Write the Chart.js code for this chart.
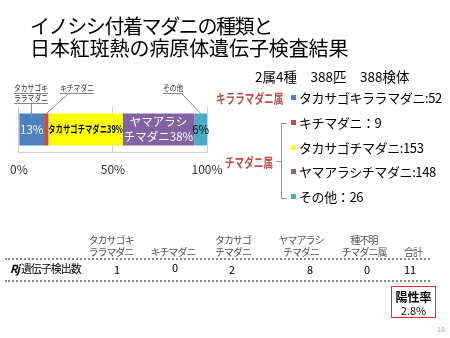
<!DOCTYPE html>
<html>
<head>
<meta charset="utf-8">
<script src="https://cdn.jsdelivr.net/npm/chart.js@4"></script>
<style>
  body { margin: 0; background: #fff; }
  #wrap { position: relative; width: 450px; height: 338px; overflow: hidden; font-family: "Noto Sans CJK JP", sans-serif; }
  #c { position: absolute; left: 0; top: 0; }
  .t { position: absolute; white-space: nowrap; line-height: 1; }
  .title { font-size: 20px; color: #000; }
  .leg { font-size: 13px; color: #000; letter-spacing: -0.4px; }
  .sw { position: absolute; width: 5px; height: 5px; }
  .genus { font-size: 13px; color: #c0504d; transform: scaleX(0.74); transform-origin: 0 0; font-weight: bold; }
  .hd { font-size: 10px; color: #555; letter-spacing: -1px; }
  .val { font-size: 11px; color: #000; }
  .dots { position: absolute; left: 5px; width: 425px; border-top: 2px dotted #888; }
</style>
</head>
<body>
<div id="wrap">
  <canvas id="c" width="450" height="338"></canvas>
  <div id="overlay"></div>
</div>
<script>
// data
const species = ['タカサゴキララマダニ', 'キチマダニ', 'タカサゴチマダニ', 'ヤマアラシチマダニ', 'その他'];
const counts = [52, 9, 153, 148, 26];
const colors = ['#4f81bd', '#c0504d', '#ffff00', '#8064a2', '#4bacc6'];
const barLabels = [['13%'], [], ['タカサゴチマダニ39%'], ['ヤマアラシ', 'チマダニ38%'], ['6%']];
const barLabelColors = ['#ffffff', '#000000', '#000000', '#ffffff', '#000000'];
const callouts = [['タカサゴキ', 'ララマダニ'], ['キチマダニ'], null, null, ['その他']];
const axisTicks = [0, 50, 100];
const titleLines = ['イノシシ付着マダニの種類と', '日本紅斑熱の病原体遺伝子検査結果'];
const summary = '2属4種　388匹　388検体';
const genera = ['キララマダニ属', 'チマダニ属'];
const legendTexts = ['タカサゴキララマダニ:52', 'キチマダニ：9', 'タカサゴチマダニ:153', 'ヤマアラシチマダニ:148', 'その他：26'];
const tableHeads = [['タカサゴキ', 'ララマダニ'], ['', 'キチマダニ'], ['タカサゴ', 'チマダニ'], ['ヤマアラシ', 'チマダニ'], ['種不明', 'チマダニ属'], ['', '合計']];
const tableValues = ['1', '0', '2', '8', '0', '11'];
const rowLabel = '遺伝子検出数';
const rateLabel = '陽性率';
const rateValue = '2.8%';

const total = counts.reduce((a, b) => a + b, 0);

// html text parts
const ov = document.getElementById('overlay');
function put(cls, txt, x, y, extra) {
  const d = document.createElement('div');
  d.className = 't ' + cls;
  d.textContent = txt;
  d.style.left = x + 'px';
  d.style.top = y + 'px';
  if (extra) Object.assign(d.style, extra);
  ov.appendChild(d);
  return d;
}
put('title', titleLines[0], 30, 16, { letterSpacing: '-1.4px' });
put('title', titleLines[1], 30, 38, { letterSpacing: '-0.1px' });
put('leg', summary, 255, 70, { letterSpacing: '0px', fontSize: '13.5px' });

put('genus', genera[0], 216, 91);
put('genus', genera[1], 225, 155);
const rowsY = [98, 123, 148, 172, 197];
legendTexts.forEach((s, i) => {
  const sw = document.createElement('div');
  sw.className = 'sw';
  sw.style.background = colors[i];
  sw.style.left = '291px';
  sw.style.top = (rowsY[i] - 3) + 'px';
  ov.appendChild(sw);
  put('leg', s, 299, rowsY[i] - 7);
});
// bracket for second genus
const br = document.createElement('div');
Object.assign(br.style, { position: 'absolute', left: '281px', top: '123px', width: '5px', height: '74px',
  borderLeft: '1px solid #999', borderTop: '1px solid #999', borderBottom: '1px solid #999' });
ov.appendChild(br);
const brm = document.createElement('div');
Object.assign(brm.style, { position: 'absolute', left: '276px', top: '161px', width: '5px', borderTop: '1px solid #999' });
ov.appendChild(brm);

// table
const colX = [111, 173, 233, 301, 364, 413];
tableHeads.forEach((h, i) => {
  put('hd', h[0], colX[i], 235, { transform: 'translateX(-50%)' });
  put('hd', h[1], colX[i], 247, { transform: 'translateX(-50%)' });
});
const valX = [117, 175, 232, 310, 367, 410];
tableValues.forEach((v, i) => {
  put('val', v, valX[i], i === 1 ? 262 : 264, { transform: 'translateX(-50%)' });
});
const rl = put('val', '', 10, 263, { letterSpacing: '-1px' });
rl.innerHTML = '<b><i style="margin-right:2px">Rj</i></b>' + rowLabel;
['258px', '280px'].forEach(y => {
  const d = document.createElement('div');
  d.className = 'dots';
  d.style.top = y;
  ov.appendChild(d);
});
const box = document.createElement('div');
Object.assign(box.style, { position: 'absolute', left: '391px', top: '286px', width: '45px', height: '32px',
  border: '1.5px solid #e8302c', textAlign: 'center', fontSize: '11px', lineHeight: '13px', paddingTop: '3px', boxSizing: 'border-box' });
box.innerHTML = '<b style="font-size:12px">' + rateLabel + '</b><br>' + rateValue;
ov.appendChild(box);
put('', '18', 437, 326, { fontSize: '7px', color: '#e08a78' });

// plugin: labels inside segments and callouts above the bar
const segLabels = {
  id: 'segLabels',
  afterDatasetsDraw(chart) {
    const ctx = chart.ctx;
    ctx.save();
    ctx.textAlign = 'center';
    ctx.textBaseline = 'middle';
    chart.data.datasets.forEach((ds, i) => {
      const el = chart.getDatasetMeta(i).data[0];
      const lines = barLabels[i];
      if (!lines.length) return;
      const cx = (el.x + el.base) / 2;
      ctx.fillStyle = barLabelColors[i];
      ctx.font = (i === 2 ? 'bold 10.5px' : '11.5px') + ' "Noto Sans CJK JP"';
      const lh = 15;
      lines.forEach((s, k) => {
        const y = el.y + (k - (lines.length - 1) / 2) * lh;
        if (i === 2) {
          ctx.save();
          ctx.translate(cx, y);
          ctx.scale(0.7, 1);
          ctx.fillText(s, 0, 0);
          ctx.restore();
        } else {
          ctx.fillText(s, cx, y);
        }
      });
    });
    // callouts
    const textLeft = [14, 60, null, null, 163];
    ctx.font = '8.5px "Noto Sans CJK JP"';
    ctx.textAlign = 'left';
    ctx.fillStyle = '#333';
    ctx.strokeStyle = '#888';
    ctx.lineWidth = 1;
    callouts.forEach((lines, i) => {
      if (!lines) return;
      const el = chart.getDatasetMeta(i).data[0];
      const top = el.y - el.height / 2;
      const tx = textLeft[i];
      lines.forEach((s, k) => {
        const y = 88 + k * 10;
        ctx.save();
        ctx.translate(tx, y);
        ctx.scale(0.8, 1);
        ctx.fillText(s, 0, 0);
        ctx.restore();
        const w = ctx.measureText(s).width * 0.8;
        ctx.beginPath();
        ctx.moveTo(tx, y + 5.5);
        ctx.lineTo(tx + w, y + 5.5);
        ctx.stroke();
      });
      const ly = 88 + (lines.length - 1) * 10 + 6;
      let sx;
      if (i === 0) sx = el.base + 12;
      else if (i === 1) sx = tx + 8;
      else sx = tx + 19;
      const ex = i === 0 ? sx : (el.x + el.base) / 2;
      ctx.beginPath();
      ctx.moveTo(sx, ly);
      ctx.lineTo(ex, i === 0 ? top + 4 : top);
      ctx.stroke();
    });
    ctx.restore();
  }
};

Chart.defaults.font.family = '"Noto Sans CJK JP", sans-serif';

new Chart(document.getElementById('c'), {
  type: 'bar',
  data: {
    labels: [''],
    datasets: species.map((s, i) => ({
      label: s,
      data: [counts[i] / total * 100],
      backgroundColor: colors[i],
      borderWidth: 0,
      categoryPercentage: 1,
      barPercentage: 0.71
    }))
  },
  options: {
    indexAxis: 'y',
    responsive: false,
    animation: false,
    layout: { padding: { left: 14, right: 243, top: 107, bottom: 156 } },
    plugins: { legend: { display: false }, tooltip: { enabled: false } },
    scales: {
      x: {
        stacked: true,
        min: 0, max: 100,
        afterBuildTicks(scale) { scale.ticks = axisTicks.map(v => ({ value: v })); },
        afterFit(scale) { scale.height = 30; },
        ticks: { callback: v => v + '%', color: '#333', font: { size: 12 }, padding: 10, maxRotation: 0 },
        grid: { color: '#d0d0d0', tickLength: 0 },
        border: { color: '#d0d0d0' }
      },
      y: { stacked: true, display: false }
    }
  },
  plugins: [segLabels]
});
</script>
</body>
</html>
